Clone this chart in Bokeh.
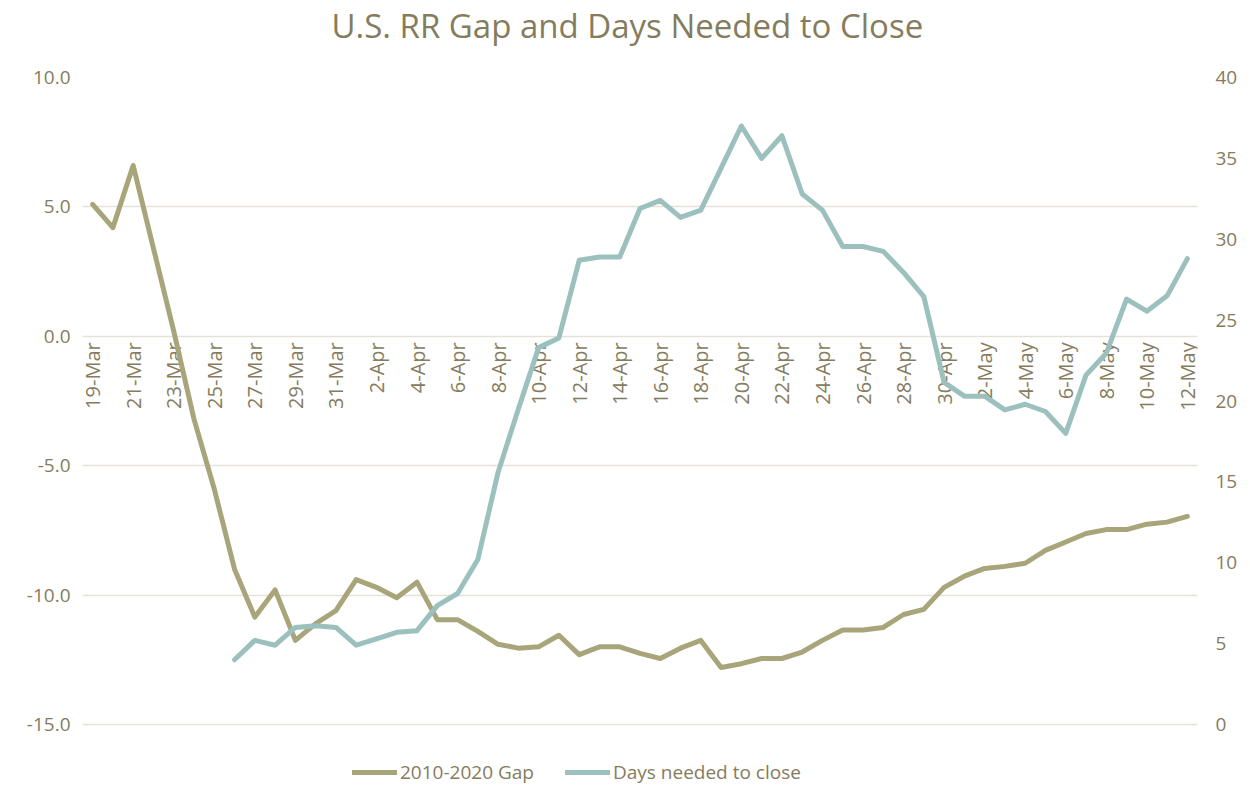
import math
from bokeh.plotting import figure
from bokeh.models import (FactorRange, Range1d, LinearAxis, FixedTicker,
                          PrintfTickFormatter, Legend, LegendItem, Title)
from bokeh.core.properties import value
from bokeh.embed import file_html
from bokeh.resources import INLINE

dates = ["19-Mar", "20-Mar", "21-Mar", "22-Mar", "23-Mar", "24-Mar", "25-Mar",
         "26-Mar", "27-Mar", "28-Mar", "29-Mar", "30-Mar", "31-Mar",
         "1-Apr", "2-Apr", "3-Apr", "4-Apr", "5-Apr", "6-Apr", "7-Apr", "8-Apr",
         "9-Apr", "10-Apr", "11-Apr", "12-Apr", "13-Apr", "14-Apr", "15-Apr",
         "16-Apr", "17-Apr", "18-Apr", "19-Apr", "20-Apr", "21-Apr", "22-Apr",
         "23-Apr", "24-Apr", "25-Apr", "26-Apr", "27-Apr", "28-Apr", "29-Apr",
         "30-Apr", "1-May", "2-May", "3-May", "4-May", "5-May", "6-May",
         "7-May", "8-May", "9-May", "10-May", "11-May", "12-May"]

gap = [5.1, 4.2, 6.6, 3.4, 0.2, -3.2, -5.9,
       -9.0, -10.85, -9.8, -11.75, -11.1, -10.6,
       -9.4, -9.7, -10.1, -9.5, -10.95, -10.95, -11.4, -11.9,
       -12.05, -12.0, -11.55, -12.3, -12.0, -12.0, -12.25,
       -12.45, -12.05, -11.75, -12.8, -12.65, -12.45, -12.45,
       -12.2, -11.75, -11.35, -11.35, -11.25, -10.75, -10.55,
       -9.7, -9.27, -8.97, -8.89, -8.77, -8.27, -7.95,
       -7.62, -7.47, -7.47, -7.26, -7.18, -6.96]

nan = float("nan")
days = [nan, nan, nan, nan, nan, nan, nan,
        4.0, 5.2, 4.9, 6.0, 6.1, 6.0,
        4.9, 5.3, 5.7, 5.8, 7.35, 8.1, 10.2, 15.6,
        19.5, 23.3, 23.9, 28.7, 28.9, 28.9, 31.9,
        32.4, 31.35, 31.8, 34.4, 37.0, 35.0, 36.4,
        32.8, 31.8, 29.55, 29.55, 29.25, 27.95, 26.45,
        21.15, 20.3, 20.3, 19.45, 19.8, 19.35, 18.0,
        21.6, 22.95, 26.3, 25.55, 26.5, 28.8]

tick_labels = ["19-Mar", "21-Mar", "23-Mar", "25-Mar", "27-Mar", "29-Mar",
               "31-Mar", "2-Apr", "4-Apr", "6-Apr", "8-Apr", "10-Apr",
               "12-Apr", "14-Apr", "16-Apr", "18-Apr", "20-Apr", "22-Apr",
               "24-Apr", "26-Apr", "28-Apr", "30-Apr", "2-May", "4-May",
               "6-May", "8-May", "10-May", "12-May"]

left_ticks = [-15, -10, -5, 0, 5, 10]
right_ticks = [0, 5, 10, 15, 20, 25, 30, 35, 40]

FONT = "Open Sans"
TXT = "#857C5E"
GAP_C = "#A9A57B"
DAYS_C = "#9BC0BE"
GRID_C = "#E5E1D8"

# plotting area (gridline span) plus a strip below it that holds the legend
AREA_H = 647
STRIP_H = 62
pad = STRIP_H / AREA_H
l_lo, l_hi = left_ticks[0], left_ticks[-1]
r_lo, r_hi = right_ticks[0], right_ticks[-1]

p = figure(x_range=FactorRange(*dates),
           y_range=Range1d(l_lo - (l_hi - l_lo) * pad, l_hi),
           frame_width=1115, frame_height=AREA_H + STRIP_H,
           min_border_left=82, min_border_right=37,
           min_border_top=74, min_border_bottom=0,
           x_axis_location=None, title_location=None, output_backend="svg",
           toolbar_location=None, background_fill_color="white",
           border_fill_color="white", outline_line_color=None)

# spacer panel between frame and title, then the title itself
p.add_layout(Title(text=" ", text_font_size="1px", standoff=27), "above")
p.add_layout(Title(text="U.S. RR Gap and Days Needed to Close", text_font=FONT,
                   text_font_size="33px", text_font_style="normal",
                   text_color=TXT, align="left", offset=249, standoff=0),
             "above")

p.extra_y_ranges = {"days": Range1d(r_lo - (r_hi - r_lo) * pad, r_hi)}

yl = p.yaxis[0]
yl.ticker = FixedTicker(ticks=left_ticks)
yl.formatter = PrintfTickFormatter(format="%.1f")
yr = LinearAxis(y_range_name="days", ticker=FixedTicker(ticks=right_ticks))
p.add_layout(yr, "right")
for ax in (yl, yr):
    ax.axis_line_color = None
    ax.major_tick_line_color = None
    ax.minor_tick_line_color = None
    ax.major_label_text_font = FONT
    ax.major_label_text_font_size = "19px"
    ax.major_label_text_color = TXT
yl.major_label_standoff = 6
yr.major_label_standoff = 12

p.ygrid.ticker = FixedTicker(ticks=left_ticks)
p.ygrid.grid_line_color = GRID_C
p.ygrid.grid_line_width = 1.3
p.xgrid.grid_line_color = None

# date labels sitting on the zero line
p.text(x=tick_labels, y=[0] * len(tick_labels), text=tick_labels,
       angle=math.pi / 2, text_align="right", text_baseline="middle",
       y_offset=6, text_font=value(FONT), text_font_size="20px",
       text_color=TXT)

r_gap = p.line(x=dates, y=gap, line_color=GAP_C, line_width=5,
               line_join="round", line_cap="round")
r_days = p.line(x=dates, y=days, line_color=DAYS_C, line_width=5,
                line_join="round", line_cap="round", y_range_name="days")

legend = Legend(items=[LegendItem(label="2010-2020 Gap", renderers=[r_gap]),
                       LegendItem(label="Days needed to close", renderers=[r_days])],
                orientation="horizontal", location=(270, 1),
                glyph_width=45, glyph_height=20, label_standoff=3, spacing=31,
                padding=0, margin=0, border_line_color=None,
                background_fill_alpha=0, label_text_font=FONT,
                label_text_font_size="19px", label_text_color=TXT)
p.add_layout(legend)

open("out.html", "w").write(file_html(p, INLINE))
